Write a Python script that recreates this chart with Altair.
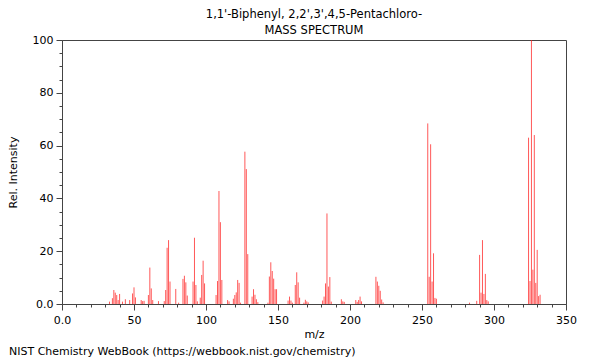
import altair as alt
import pandas as pd

mz = [33, 35, 36, 37, 38, 39, 40, 42, 44, 47, 49, 50, 51, 55, 56, 57, 60, 61, 62, 63,
      67, 71, 72, 73, 74, 75, 79, 81, 84, 85, 86, 87, 91, 92, 93, 94, 96, 97, 98, 99,
      107, 108, 109, 110, 111, 115, 116, 119, 120, 121, 122, 123, 124, 127, 128, 129,
      132, 133, 134, 135, 136, 143, 144, 145, 146, 147, 148, 149, 157, 158, 159, 160,
      162, 163, 164, 165, 168, 169, 170, 171, 181, 182, 183, 184, 185, 186, 187,
      194, 195, 196, 204, 205, 206, 207, 208, 218, 219, 220, 221, 222, 223,
      254, 255, 256, 257, 258, 259, 260, 283, 288, 290, 291, 292, 293, 294, 295, 296,
      324, 325, 326, 327, 328, 329, 330, 331, 332]
intensity = [0.9, 2.2, 5.3, 4.3, 3.4, 1.5, 3.8, 0.9, 1.8, 1.5, 4.0, 6.3, 2.5, 1.5, 1.1, 1.2, 3.4, 13.8, 5.9, 1.5,
             1.1, 1.1, 5.3, 21.3, 24.2, 8.5, 5.7, 0.5, 9.5, 10.7, 8.2, 3.2, 8.5, 25.1, 7.2, 1.0, 2.4, 11.0, 16.4, 7.8,
             3.4, 8.7, 42.8, 31.0, 9.1, 1.5, 1.0, 2.0, 3.4, 4.4, 9.1, 8.0, 0.5, 57.7, 51.1, 18.9,
             2.8, 5.6, 3.5, 1.8, 0.7, 0.5, 10.4, 15.8, 12.5, 9.6, 5.6, 5.6, 1.3, 2.8, 1.3, 0.5,
             7.2, 12.0, 8.2, 2.4, 0.5, 1.6, 1.0, 0.6, 1.3, 2.8, 7.8, 34.3, 6.6, 10.2, 0.9,
             1.8, 1.0, 0.8, 1.5, 0.8, 1.5, 2.8, 1.0, 10.3, 8.5, 6.9, 5.0, 1.7, 0.6,
             68.4, 10.3, 60.5, 8.5, 19.2, 2.3, 2.0, 0.5, 1.2, 18.6, 4.3, 24.2, 3.8, 11.4, 1.5, 1.0,
             63.0, 8.7, 100.0, 13.0, 64.0, 8.0, 20.5, 3.0, 3.5]

title_lines = ["1,1'-Biphenyl, 2,2',3',4,5-Pentachloro-", "MASS SPECTRUM"]
footer = ["NIST Chemistry WebBook (https://webbook.nist.gov/chemistry)"]
x_ticks = list(range(0, 351, 10))
y_ticks = list(range(0, 101, 5))

df = pd.DataFrame({"mz": mz, "intensity": intensity})
FONT = "DejaVu Sans"
AX = "#444444"

peaks = alt.Chart(df).mark_rule(color="#ff2020", strokeWidth=1, opacity=0.75).encode(
    x=alt.X("mz:Q",
            scale=alt.Scale(domain=[0, 350], nice=False, zero=False),
            axis=alt.Axis(values=x_ticks, title="m/z", grid=False,
                          labelExpr="datum.value == 0 ? '0.0' : (datum.value % 50 == 0 ? datum.label : '')",
                          tickSize={"condition": {"test": "datum.value % 50 == 0", "value": 6}, "value": 3},
                          labelPadding=4, titlePadding=3, labelOverlap=False, labelFlush=False)),
    y=alt.Y("intensity:Q",
            scale=alt.Scale(domain=[0, 100], nice=False),
            axis=alt.Axis(values=y_ticks, title="Rel. Intensity", grid=False,
                          labelExpr="datum.value == 0 ? '0.0' : (datum.value % 20 == 0 ? datum.label : '')",
                          tickSize={"condition": {"test": "datum.value % 20 == 0", "value": 6}, "value": 3},
                          labelPadding=3, titlePadding=14, labelOverlap=False, labelFlush=False)),
    y2=alt.datum(0),
)

foot = alt.Chart(pd.DataFrame({"t": footer})).mark_text(
    align="left", baseline="middle", font=FONT, fontSize=11, color="#000000"
).encode(text="t:N", x=alt.value(-53), y=alt.value(312))

chart = alt.layer(peaks, foot).properties(
    width=504, height=264,
    title=alt.TitleParams(title_lines, fontSize=11.5, font=FONT, fontWeight="normal",
                          anchor="middle", offset=-2, lineHeight=16, color="#000000"),
    autosize=alt.AutoSizeParams(type="none"),
    padding={"left": 54, "top": 32, "right": 26, "bottom": 54},
).configure_axis(
    labelFont=FONT, titleFont=FONT, labelFontSize=11, titleFontSize=11,
    titleFontWeight="normal", labelColor="#000000", titleColor="#000000",
    domainColor=AX, tickColor=AX,
).configure_view(stroke=AX)

chart.save("out.html", embed_options={"renderer": "svg", "actions": False})
